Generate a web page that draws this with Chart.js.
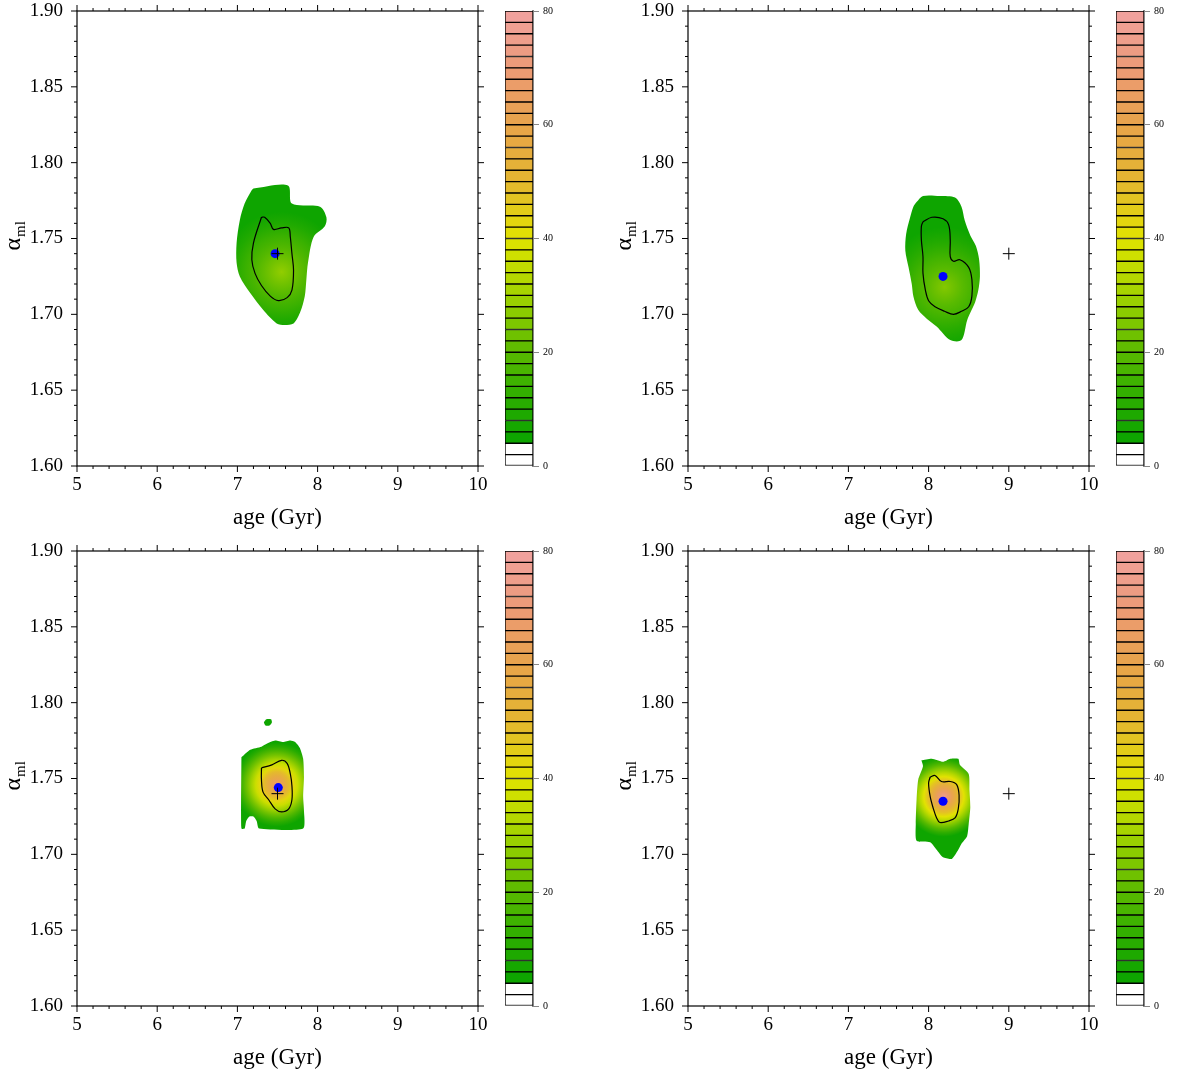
<!DOCTYPE html>
<html>
<head>
<meta charset="utf-8">
<script src="https://cdn.jsdelivr.net/npm/chart.js@4.4.0/dist/chart.umd.min.js"></script>
<style>
  body { margin: 0; background: #fff; width: 1179px; height: 1074px; position: relative; overflow: hidden; }
  canvas { position: absolute; }
</style>
</head>
<body>
<canvas id="p1" width="490" height="540" style="left:0px;top:0px"></canvas>
<canvas id="c1" width="70" height="540" style="left:500px;top:0px"></canvas>
<canvas id="p2" width="490" height="540" style="left:611px;top:0px"></canvas>
<canvas id="c2" width="70" height="540" style="left:1111px;top:0px"></canvas>
<canvas id="p3" width="490" height="540" style="left:0px;top:540px"></canvas>
<canvas id="c3" width="70" height="540" style="left:500px;top:540px"></canvas>
<canvas id="p4" width="490" height="540" style="left:611px;top:540px"></canvas>
<canvas id="c4" width="70" height="540" style="left:1111px;top:540px"></canvas>
<script>
const FONT = "'Liberation Serif', 'DejaVu Serif', serif";

// axes
const xTicks = [5, 6, 7, 8, 9, 10];
const yTicks = [1.60, 1.65, 1.70, 1.75, 1.80, 1.85, 1.90];
const cbarTicks = [0, 20, 40, 60, 80];
const cbarLevels = [0, 2, 4, 6, 8, 10, 12, 14, 16, 18, 20, 22, 24, 26, 28, 30, 32, 34, 36, 38, 40,
                    42, 44, 46, 48, 50, 52, 54, 56, 58, 60, 62, 64, 66, 68, 70, 72, 74, 76, 78, 80];

// panel 1 (top left)
const blob1Age   = [7.20, 7.63, 7.68, 8.03, 8.11, 8.09, 7.95, 7.88, 7.86, 7.84, 7.78, 7.70, 7.59, 7.49, 7.32, 7.16, 7.03, 6.99, 6.99, 7.03, 7.09, 7.18];
const blob1Alpha = [1.783, 1.785, 1.773, 1.771, 1.764, 1.758, 1.751, 1.734, 1.723, 1.712, 1.701, 1.694, 1.693, 1.694, 1.703, 1.714, 1.725, 1.734, 1.747, 1.762, 1.773, 1.782];
const cont1Age   = [7.30, 7.20, 7.18, 7.22, 7.30, 7.41, 7.51, 7.62, 7.68, 7.70, 7.68, 7.66, 7.64, 7.55, 7.45, 7.41, 7.34];
const cont1Alpha = [1.764, 1.747, 1.736, 1.727, 1.719, 1.712, 1.709, 1.711, 1.716, 1.729, 1.740, 1.751, 1.757, 1.757, 1.756, 1.760, 1.764];

// panel 2 (top right)
const blob2Age   = [7.85, 7.93, 8.14, 8.33, 8.41, 8.45, 8.52, 8.59, 8.63, 8.64, 8.62, 8.58, 8.52, 8.48, 8.41, 8.27, 8.10, 7.98, 7.87, 7.81, 7.79, 7.75, 7.71, 7.72, 7.77, 7.81];
const blob2Alpha = [1.774, 1.778, 1.778, 1.777, 1.771, 1.762, 1.752, 1.745, 1.736, 1.725, 1.716, 1.708, 1.701, 1.696, 1.683, 1.683, 1.692, 1.697, 1.703, 1.712, 1.720, 1.731, 1.742, 1.753, 1.764, 1.771];
const cont2Age   = [7.93, 8.04, 8.18, 8.25, 8.27, 8.27, 8.31, 8.39, 8.50, 8.54, 8.54, 8.50, 8.41, 8.31, 8.20, 8.08, 8.00, 7.96, 7.93, 7.93, 7.91, 7.91];
const cont2Alpha = [1.761, 1.764, 1.763, 1.759, 1.749, 1.738, 1.735, 1.736, 1.731, 1.723, 1.712, 1.705, 1.702, 1.700, 1.702, 1.705, 1.709, 1.716, 1.727, 1.738, 1.749, 1.758];

// panel 3 (bottom left)
const blob3Age   = [7.05, 7.16, 7.30, 7.37, 7.47, 7.57, 7.66, 7.72, 7.78, 7.82, 7.83, 7.82, 7.83, 7.82, 7.27, 7.24, 7.20, 7.15, 7.11, 7.09, 7.05];
const blob3Alpha = [1.764, 1.769, 1.771, 1.773, 1.775, 1.774, 1.775, 1.774, 1.770, 1.763, 1.751, 1.738, 1.729, 1.717, 1.717, 1.722, 1.725, 1.725, 1.722, 1.717, 1.717];
const spot3Age   = [7.33, 7.36, 7.42, 7.43, 7.40, 7.35];
const spot3Alpha = [1.787, 1.789, 1.789, 1.787, 1.785, 1.785];
const cont3Age   = [7.30, 7.43, 7.55, 7.62, 7.66, 7.68, 7.68, 7.64, 7.55, 7.47, 7.39, 7.32, 7.30];
const cont3Alpha = [1.757, 1.759, 1.762, 1.760, 1.753, 1.745, 1.736, 1.730, 1.728, 1.730, 1.736, 1.741, 1.749];

// panel 4 (bottom right)
const blob4Age   = [7.91, 8.04, 8.18, 8.27, 8.37, 8.39, 8.50, 8.51, 8.52, 8.50, 8.48, 8.41, 8.37, 8.29, 8.18, 8.10, 8.02, 7.85, 7.84, 7.85, 7.87, 7.93];
const blob4Alpha = [1.762, 1.763, 1.761, 1.763, 1.763, 1.759, 1.753, 1.742, 1.731, 1.720, 1.712, 1.707, 1.703, 1.697, 1.698, 1.703, 1.708, 1.709, 1.720, 1.736, 1.749, 1.758];
const cont4Age   = [8.02, 8.08, 8.16, 8.27, 8.35, 8.38, 8.37, 8.33, 8.25, 8.14, 8.10, 8.06, 8.02, 8.00];
const cont4Alpha = [1.751, 1.752, 1.748, 1.748, 1.746, 1.739, 1.730, 1.724, 1.722, 1.721, 1.724, 1.730, 1.738, 1.747];

// best fit (blue dot), input value (cross), density peak
const bestAge   = [7.47, 8.18, 7.51, 8.18];
const bestAlpha = [1.740, 1.725, 1.744, 1.735];
const trueAge   = [7.5, 9.0, 7.5, 9.0];
const trueAlpha = [1.74, 1.74, 1.74, 1.74];
const peakAge   = [7.55, 8.20, 7.49, 8.19];
const peakAlpha = [1.728, 1.718, 1.746, 1.738];
const peakLevel = [28, 26, 68, 76];

// colour map
const cmapLevels = [4, 10, 20, 30, 40, 50, 60, 70, 80];
const cmapColors = [[10,164,0], [34,170,0], [90,186,0], [160,210,0], [226,228,0], [228,182,48], [232,164,74], [236,154,118], [240,162,160]];

function colorAt(level) {
  if (level < 4) return '#ffffff';
  let i = 0;
  while (i < cmapLevels.length - 2 && level > cmapLevels[i + 1]) i++;
  const t = Math.max(0, Math.min(1, (level - cmapLevels[i]) / (cmapLevels[i + 1] - cmapLevels[i])));
  const a = cmapColors[i], b = cmapColors[i + 1];
  const c = a.map((v, k) => Math.round(v + (b[k] - v) * t));
  return 'rgb(' + c.join(',') + ')';
}

function pts(ages, alphas) {
  const out = ages.map((a, i) => ({x: a, y: alphas[i]}));
  out.push(out[0]);
  return out;
}

const gradRadius = [60, 60, 42, 40];

function blobFill(p) {
  return function(context) {
    const chart = context.chart;
    if (!chart.chartArea) return colorAt(5);
    const cx = chart.scales.x.getPixelForValue(peakAge[p]);
    const cy = chart.scales.y.getPixelForValue(peakAlpha[p]);
    const g = chart.ctx.createRadialGradient(cx, cy, 0, cx, cy, gradRadius[p]);
    for (let k = 0; k <= 10; k++) {
      const t = k / 10;
      g.addColorStop(t, colorAt(peakLevel[p] - (peakLevel[p] - 5) * t));
    }
    return g;
  };
}

function noPad(s) {
  s.paddingTop = 0; s.paddingBottom = 0; s.paddingLeft = 0; s.paddingRight = 0;
}

const framePlugin = {
  id: 'frame',
  afterDraw(chart) {
    const {ctx, chartArea: a, scales: {x, y}} = chart;
    ctx.save();
    ctx.strokeStyle = '#000';
    ctx.lineWidth = 1.2;
    ctx.strokeRect(a.left, a.top, a.right - a.left, a.bottom - a.top);
    ctx.beginPath();
    const xStep = (xTicks[1] - xTicks[0]) / 5;
    for (let k = 0; k <= (xTicks.length - 1) * 5; k++) {
      const px = x.getPixelForValue(xTicks[0] + k * xStep);
      const len = k % 5 === 0 ? 6 : 3;
      ctx.moveTo(px, a.bottom); ctx.lineTo(px, a.bottom + len);
      ctx.moveTo(px, a.top); ctx.lineTo(px, a.top - len);
    }
    const yStep = (yTicks[1] - yTicks[0]) / 5;
    for (let k = 0; k <= (yTicks.length - 1) * 5; k++) {
      const py = y.getPixelForValue(yTicks[0] + k * yStep);
      const len = k % 5 === 0 ? 6 : 3;
      ctx.moveTo(a.left, py); ctx.lineTo(a.left - len, py);
      ctx.moveTo(a.right, py); ctx.lineTo(a.right + len, py);
    }
    ctx.lineWidth = 1;
    ctx.stroke();
    // y axis title: alpha with subscript ml
    ctx.translate(a.left - 57, (a.top + a.bottom) / 2 + 12);
    ctx.rotate(-Math.PI / 2);
    ctx.fillStyle = '#000';
    ctx.textBaseline = 'alphabetic';
    ctx.font = '24px ' + FONT;
    ctx.fillText('\u03b1', 0, 0);
    const w = ctx.measureText('\u03b1').width;
    ctx.font = '15px ' + FONT;
    ctx.fillText('ml', w + 1, 5);
    ctx.restore();
  }
};

function makePlot(id, p, blobs, contAge, contAlpha, tension) {
  const datasets = [
    {data: [{x: trueAge[p], y: trueAlpha[p]}], pointStyle: 'cross', pointRadius: 6, borderColor: '#000', borderWidth: 1},
    {data: [{x: bestAge[p], y: bestAlpha[p]}], pointRadius: 4.5, backgroundColor: '#0000ff', borderColor: '#0000ff', borderWidth: 0},
    {data: pts(contAge, contAlpha), showLine: true, borderColor: '#000', borderWidth: 1.2, pointRadius: 0, fill: false, tension: 0.35}
  ];
  blobs.forEach(b => datasets.push({
    data: pts(b[0], b[1]), showLine: true, borderColor: 'rgba(0,0,0,0)', borderWidth: 0,
    pointRadius: 0, fill: 'shape', backgroundColor: blobFill(p), tension: tension
  }));
  new Chart(document.getElementById(id), {
    type: 'scatter',
    data: {datasets},
    options: {
      responsive: false,
      animation: false,
      events: [],
      layout: {padding: {top: 11, right: 12, left: 0, bottom: 0}},
      plugins: {legend: {display: false}, tooltip: {enabled: false}},
      scales: {
        x: {
          type: 'linear', min: 5, max: 10,
          afterBuildTicks: s => { s.ticks = xTicks.map(v => ({value: v})); },
          afterFit: s => { s.height = 74; noPad(s); },
          ticks: {font: {family: FONT, size: 19}, color: '#000', padding: 8, maxRotation: 0},
          grid: {display: false, drawTicks: false},
          border: {display: false},
          title: {display: true, text: 'age (Gyr)', color: '#000', font: {family: FONT, size: 23, lineHeight: 1}, padding: {top: 0, bottom: 11}}
        },
        y: {
          type: 'linear', min: 1.6, max: 1.9,
          afterBuildTicks: s => { s.ticks = yTicks.map(v => ({value: v})); },
          afterFit: s => { s.width = 77; noPad(s); },
          ticks: {font: {family: FONT, size: 19}, color: '#000', padding: 14, callback: v => v.toFixed(2)},
          grid: {display: false, drawTicks: false},
          border: {display: false}
        }
      }
    },
    plugins: [framePlugin]
  });
}

function makeCbar(id) {
  const datasets = [];
  for (let i = 0; i < cbarLevels.length - 1; i++) {
    const lo = cbarLevels[i], hi = cbarLevels[i + 1];
    datasets.push({
      data: [hi - lo], backgroundColor: colorAt((lo + hi) / 2), borderColor: '#000',
      borderWidth: 1, borderSkipped: false, barPercentage: 1, categoryPercentage: 1
    });
  }
  new Chart(document.getElementById(id), {
    type: 'bar',
    data: {labels: [''], datasets},
    options: {
      responsive: false,
      animation: false,
      events: [],
      layout: {padding: {top: 11, left: 5, right: 0, bottom: 74}},
      plugins: {legend: {display: false}, tooltip: {enabled: false}},
      scales: {
        x: {display: false, stacked: true},
        y: {
          position: 'right', stacked: true, min: 0, max: 80,
          afterBuildTicks: s => { s.ticks = cbarTicks.map(v => ({value: v})); },
          afterFit: s => { s.width = 37; noPad(s); },
          ticks: {font: {family: FONT, size: 10}, color: '#000', padding: 4},
          grid: {drawOnChartArea: false, tickLength: 6, color: '#888'},
          border: {color: '#888', width: 2}
        }
      }
    }
  });
}

makePlot('p1', 0, [[blob1Age, blob1Alpha]], cont1Age, cont1Alpha, 0.3);
makePlot('p2', 1, [[blob2Age, blob2Alpha]], cont2Age, cont2Alpha, 0.3);
makePlot('p3', 2, [[blob3Age, blob3Alpha], [spot3Age, spot3Alpha]], cont3Age, cont3Alpha, 0.2);
makePlot('p4', 3, [[blob4Age, blob4Alpha]], cont4Age, cont4Alpha, 0.2);
['c1', 'c2', 'c3', 'c4'].forEach(makeCbar);
</script>
</body>
</html>
